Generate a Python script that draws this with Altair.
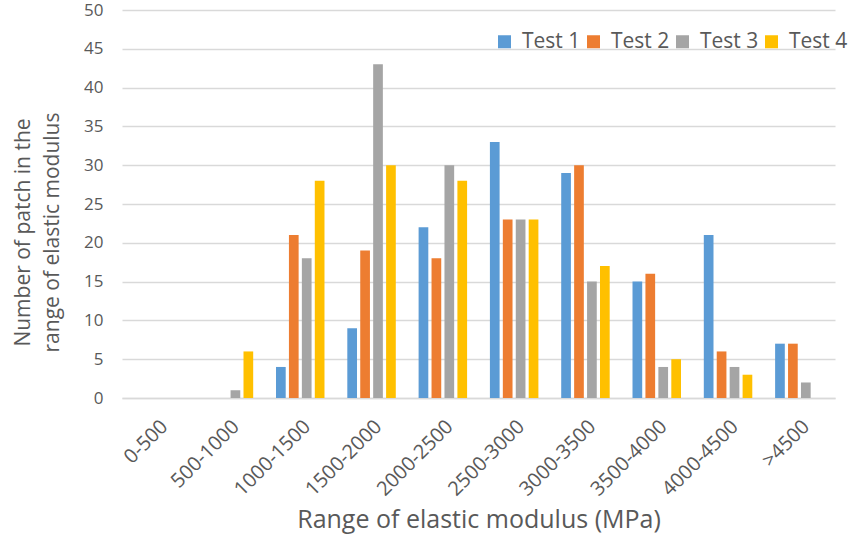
import altair as alt
import pandas as pd

ranges = ["0-500", "500-1000", "1000-1500", "1500-2000", "2000-2500",
          "2500-3000", "3000-3500", "3500-4000", "4000-4500", ">4500"]
tests = ["Test 1", "Test 2", "Test 3", "Test 4"]
test1 = [0, 0, 4, 9, 22, 33, 29, 15, 21, 7]
test2 = [0, 0, 21, 19, 18, 23, 30, 16, 6, 7]
test3 = [0, 1, 18, 43, 30, 23, 15, 4, 4, 2]
test4 = [0, 6, 28, 30, 28, 23, 17, 5, 3, 0]
colors = ["#5B9BD5", "#ED7D31", "#A5A5A5", "#FFC000"]

rows = []
for name, vals in zip(tests, [test1, test2, test3, test4]):
    for r, v in zip(ranges, vals):
        rows.append({"range": r, "test": name, "count": v})
df = pd.DataFrame(rows)

FONT = "Open Sans"
TXT = "#595959"
GRID = "#D9D9D9"

chart = alt.Chart(df).mark_bar().encode(
    x=alt.X("range:N", sort=ranges,
            scale=alt.Scale(paddingInner=0.32, paddingOuter=0.16),
            axis=alt.Axis(title="Range of elastic modulus (MPa)", labelAngle=-45,
                          labelAlign="right", labelBaseline="top", labelPadding=18,
                          labelFontSize=20, labelColor=TXT, labelFont=FONT,
                          titleFontSize=25, titleColor=TXT, titleFont=FONT,
                          titleFontWeight="normal", titlePadding=8,
                          domainColor=GRID, domainWidth=1.5, ticks=False, grid=False)),
    xOffset=alt.XOffset("test:N", sort=tests, scale=alt.Scale(paddingInner=0.25)),
    y=alt.Y("count:Q", scale=alt.Scale(domain=[0, 50], nice=False),
            axis=alt.Axis(title=["Number of patch in the", "range of elastic modulus"],
                          values=list(range(0, 51, 5)), labelFontSize=17,
                          labelColor=TXT, labelFont=FONT, labelPadding=19,
                          titleFontSize=21, titleColor=TXT, titleFont=FONT,
                          titleFontWeight="normal", titleLineHeight=29,
                          titleAngle=-90, titleX=-99, titleY=222,
                          titleAlign="center", titleBaseline="middle",
                          domain=False, ticks=False, gridColor=GRID, gridWidth=1.5)),
    color=alt.Color("test:N", sort=tests, scale=alt.Scale(domain=tests, range=colors),
                    legend=alt.Legend(title=None, orient="none", legendX=372, legendY=21,
                                      direction="horizontal", symbolType="square",
                                      symbolSize=169, symbolStrokeWidth=0,
                                      labelFontSize=21, labelColor=TXT, labelFont=FONT,
                                      columnPadding=2, labelOffset=7)),
).properties(
    width=713, height=388,
    autosize=alt.AutoSizeParams(type="none"),
    padding={"left": 122, "top": 10, "right": 18, "bottom": 142},
).configure_view(stroke=None)

chart.save("out.html", embed_options={"renderer": "svg", "actions": False})
